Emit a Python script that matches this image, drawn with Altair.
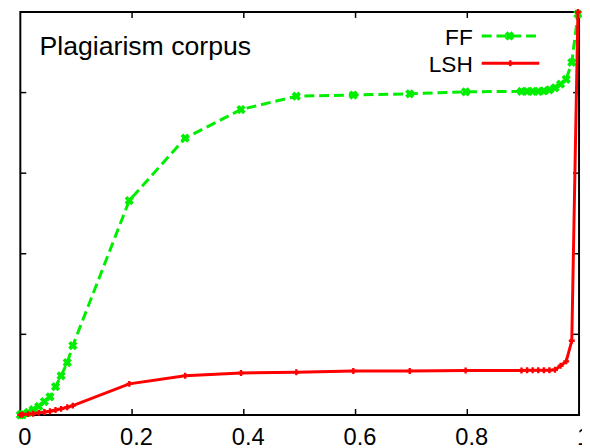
import altair as alt
import pandas as pd

# ---- data ----
ff_x = [0.0, 0.004, 0.014, 0.023, 0.033, 0.043, 0.053, 0.063, 0.073, 0.084, 0.094,
        0.195, 0.295, 0.395, 0.494, 0.596, 0.697, 0.797,
        0.897, 0.907, 0.917, 0.927, 0.937, 0.947, 0.957, 0.967, 0.977, 0.987, 0.998]
ff_y = [0.0, 0.0005, 0.006, 0.013, 0.021, 0.033, 0.045, 0.070, 0.097, 0.130, 0.172,
        0.532, 0.687, 0.758, 0.791, 0.794, 0.797, 0.802,
        0.803, 0.803, 0.803, 0.803, 0.804, 0.807, 0.812, 0.821, 0.833, 0.875, 0.995]
lsh_x = ff_x
lsh_y = [0.0, 0.001, 0.002, 0.003, 0.005, 0.007, 0.009, 0.012, 0.015, 0.019, 0.023,
         0.077, 0.097, 0.104, 0.106, 0.109, 0.109, 0.110,
         0.110, 0.111, 0.111, 0.111, 0.111, 0.111, 0.112, 0.122, 0.133, 0.184, 1.0]
x_ticks = [0, 0.2, 0.4, 0.6, 0.8, 1.0]
y_ticks = [0.2, 0.4, 0.6, 0.8]
legend_labels = ["FF", "LSH"]
title_text = "Plagiarism corpus"

W, H = 566.5, 408.5
FONT = "Liberation Sans"
GREEN = "#00ee00"
RED = "#ff0000"

xs = alt.Scale(domain=[0, 1], nice=False, zero=False)
ys = alt.Scale(domain=[0, 1], nice=False, zero=False)
x_axis = alt.Axis(values=x_ticks, format="~g", ticks=False, domain=False, grid=False,
                  labelFontSize=24, labelFont=FONT, labelColor="#000",
                  labelPadding=11, labelOffset=4, labelFlush=False,
                  labelOverlap=False, labelBound=False, title=None)

X = alt.X("x:Q", scale=xs, axis=x_axis)
Y = alt.Y("y:Q", scale=ys, axis=None)

ff = pd.DataFrame({"x": ff_x, "y": ff_y})
lsh = pd.DataFrame({"x": lsh_x, "y": lsh_y})
xt = pd.DataFrame({"x": x_ticks[1:-1]})
yt = pd.DataFrame({"y": y_ticks})

ff_line = alt.Chart(ff).mark_line(color=GREEN, strokeWidth=3, strokeDash=[10, 5]).encode(x=X, y=Y)
ff_pts = alt.Chart(ff).mark_point(shape="cross", angle=45, filled=True, size=90,
                                  color=GREEN, opacity=1).encode(x=X, y=Y)
lsh_line = alt.Chart(lsh).mark_line(color=RED, strokeWidth=3).encode(x=X, y=Y)
lsh_pts = alt.Chart(lsh).mark_point(shape="cross", filled=True, size=36,
                                    color=RED, opacity=1).encode(x=X, y=Y)

tk = dict(color="black", strokeWidth=1.5)
bot_ticks = alt.Chart(xt).mark_rule(**tk).encode(x=X, y=alt.value(H), y2=alt.value(H - 6))
top_ticks = alt.Chart(xt).mark_rule(**tk).encode(x=X, y=alt.value(0), y2=alt.value(6))
left_ticks = alt.Chart(yt).mark_rule(**tk).encode(y=Y, x=alt.value(0), x2=alt.value(6))
right_ticks = alt.Chart(yt).mark_rule(**tk).encode(y=Y, x=alt.value(W), x2=alt.value(W - 6))

one = pd.DataFrame({"d": [0]})
title = alt.Chart(one).mark_text(text=title_text, font=FONT, fontSize=27, align="left",
                                 baseline="alphabetic", color="black").encode(
    x=alt.value(19.5), y=alt.value(43.7))
ff_lab = alt.Chart(one).mark_text(text=legend_labels[0], font=FONT, fontSize=23, align="right",
                                  baseline="alphabetic", color="black").encode(
    x=alt.value(458.8), y=alt.value(33.3))
lsh_lab = alt.Chart(one).mark_text(text=legend_labels[1], font=FONT, fontSize=23, align="right",
                                   baseline="alphabetic", color="black").encode(
    x=alt.value(458.8), y=alt.value(61))
ff_sample = alt.Chart(one).mark_rule(color=GREEN, strokeWidth=3, strokeDash=[10, 5]).encode(
    x=alt.value(467.8), x2=alt.value(524.5), y=alt.value(24.3))
ff_sample_pt = alt.Chart(one).mark_point(shape="cross", angle=45, filled=True, size=90,
                                         color=GREEN, opacity=1).encode(
    x=alt.value(496), y=alt.value(24.3))
lsh_sample = alt.Chart(one).mark_rule(color=RED, strokeWidth=3).encode(
    x=alt.value(467.8), x2=alt.value(526.2), y=alt.value(52))
lsh_sample_pt = alt.Chart(one).mark_point(shape="cross", filled=True, size=36,
                                          color=RED, opacity=1).encode(
    x=alt.value(496.8), y=alt.value(52))

chart = alt.layer(
    bot_ticks, top_ticks, left_ticks, right_ticks,
    ff_line, ff_pts, lsh_line, lsh_pts,
    title, ff_lab, lsh_lab, ff_sample, ff_sample_pt, lsh_sample, lsh_sample_pt,
).properties(
    width=W, height=H,
    autosize=alt.AutoSizeParams(type="none"),
    padding={"left": 12.5, "top": 1, "right": 3, "bottom": 31},
    background="white",
).configure_view(stroke="black", strokeWidth=2)

chart.save("out.html", embed_options={"renderer": "svg", "actions": False})
